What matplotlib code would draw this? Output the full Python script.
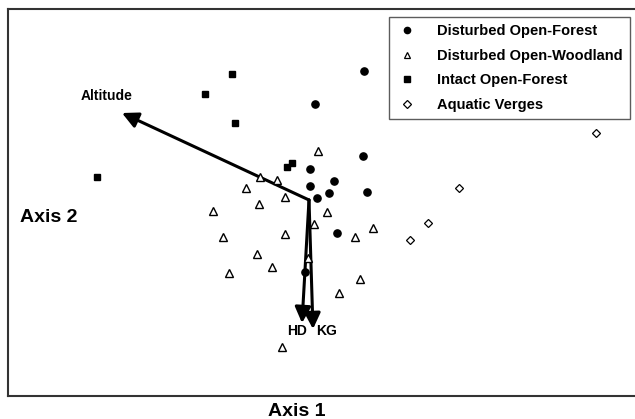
import matplotlib
matplotlib.use("Agg")
import matplotlib.pyplot as plt
from matplotlib.lines import Line2D

plt.rcParams['font.family'] = ['Liberation Sans', 'DejaVu Sans']
plt.rcParams['font.weight'] = 'bold'

# Scores (Axis 1 to the right, Axis 2 drawn downward)
dof_x = [364, 315, 363, 310, 334, 310, 367, 329, 317, 337, 305]
dof_y = [71, 104, 156, 169, 181, 186, 192, 193, 198, 233, 272]

dow_x = [318, 260, 277, 246, 285, 259, 327, 213, 314, 373, 223, 285, 355, 257, 308, 272, 229, 360, 339, 282]
dow_y = [151, 177, 180, 188, 197, 204, 212, 211, 224, 228, 237, 234, 237, 254, 258, 267, 273, 279, 293, 347]

iof_x = [232, 205, 235, 97, 287, 292]
iof_y = [74, 94, 123, 177, 167, 163]

av_x = [596, 459, 428, 410]
av_y = [133, 188, 223, 240]

vec_origin = (309, 200)
vec_names = ['Altitude', 'HD', 'KG']
vec_tip_x = [122, 302, 313]
vec_tip_y = [113, 323, 329]
vec_label_x = [107, 297, 327]
vec_label_y = [96, 331, 331]

W, H = 635, 419
fig = plt.figure(figsize=(W / 100, H / 100), dpi=100)
left, top, bottom = 8, 9, 396
ax = fig.add_axes([left / W, (H - bottom) / H, 1 - left / W, (bottom - top) / H])
ax.set_xlim(left, W)
ax.set_ylim(bottom, top)
ax.set_xticks([])
ax.set_yticks([])
for s in ['left', 'top', 'bottom']:
    ax.spines[s].set_color('#333333')
    ax.spines[s].set_linewidth(1.5)
ax.spines['right'].set_visible(False)

# vectors
for name, tx, ty, lx, ly in zip(vec_names, vec_tip_x, vec_tip_y, vec_label_x, vec_label_y):
    ax.annotate('', xy=(tx, ty), xytext=vec_origin,
                arrowprops=dict(arrowstyle='-|>,head_length=0.48,head_width=0.24',
                                mutation_scale=20, lw=2.2, color='black',
                                shrinkA=0, shrinkB=0), zorder=3)
    ax.text(lx, ly, name, fontsize=10, fontweight='bold', ha='center', va='center', zorder=4)

ax.plot(dof_x, dof_y, 'o', ms=5.2, mfc='black', mec='black', ls='none', zorder=5)
ax.plot(dow_x, dow_y, '^', ms=5.3, mfc='white', mec='black', mew=1.0, ls='none', zorder=5)
ax.plot(iof_x, iof_y, 's', ms=5, mfc='black', mec='black', ls='none', zorder=5)
ax.plot(av_x, av_y, 'D', ms=4.2, mfc='white', mec='black', mew=0.9, ls='none', zorder=5)

handles = [
    Line2D([], [], marker='o', ls='none', ms=4.5, mfc='black', mec='black'),
    Line2D([], [], marker='^', ls='none', ms=4.5, mfc='white', mec='black', mew=0.9),
    Line2D([], [], marker='s', ls='none', ms=4.3, mfc='black', mec='black'),
    Line2D([], [], marker='D', ls='none', ms=3.8, mfc='white', mec='black', mew=0.9),
]
labels = ['Disturbed Open-Forest', 'Disturbed Open-Woodland', 'Intact Open-Forest', 'Aquatic Verges']
leg = fig.legend(handles, labels, loc='upper left',
                 bbox_to_anchor=(389 / W, (H - 17) / H),
                 prop={'family': 'Liberation Sans', 'weight': 'bold', 'size': 10.5},
                 frameon=True, fancybox=False, borderaxespad=0, borderpad=0.5,
                 handlelength=1.4, handletextpad=1.42, labelspacing=0.72)
leg.get_frame().set_edgecolor('#333333')
leg.get_frame().set_linewidth(1.0)

fig.text(20 / W, 1 - 217 / H, 'Axis 2', fontsize=14, fontweight='bold', ha='left', va='center')
fig.text(297 / W, 1 - 411 / H, 'Axis 1', fontsize=14, fontweight='bold', ha='center', va='center')

fig.savefig('out.png', dpi=100)
